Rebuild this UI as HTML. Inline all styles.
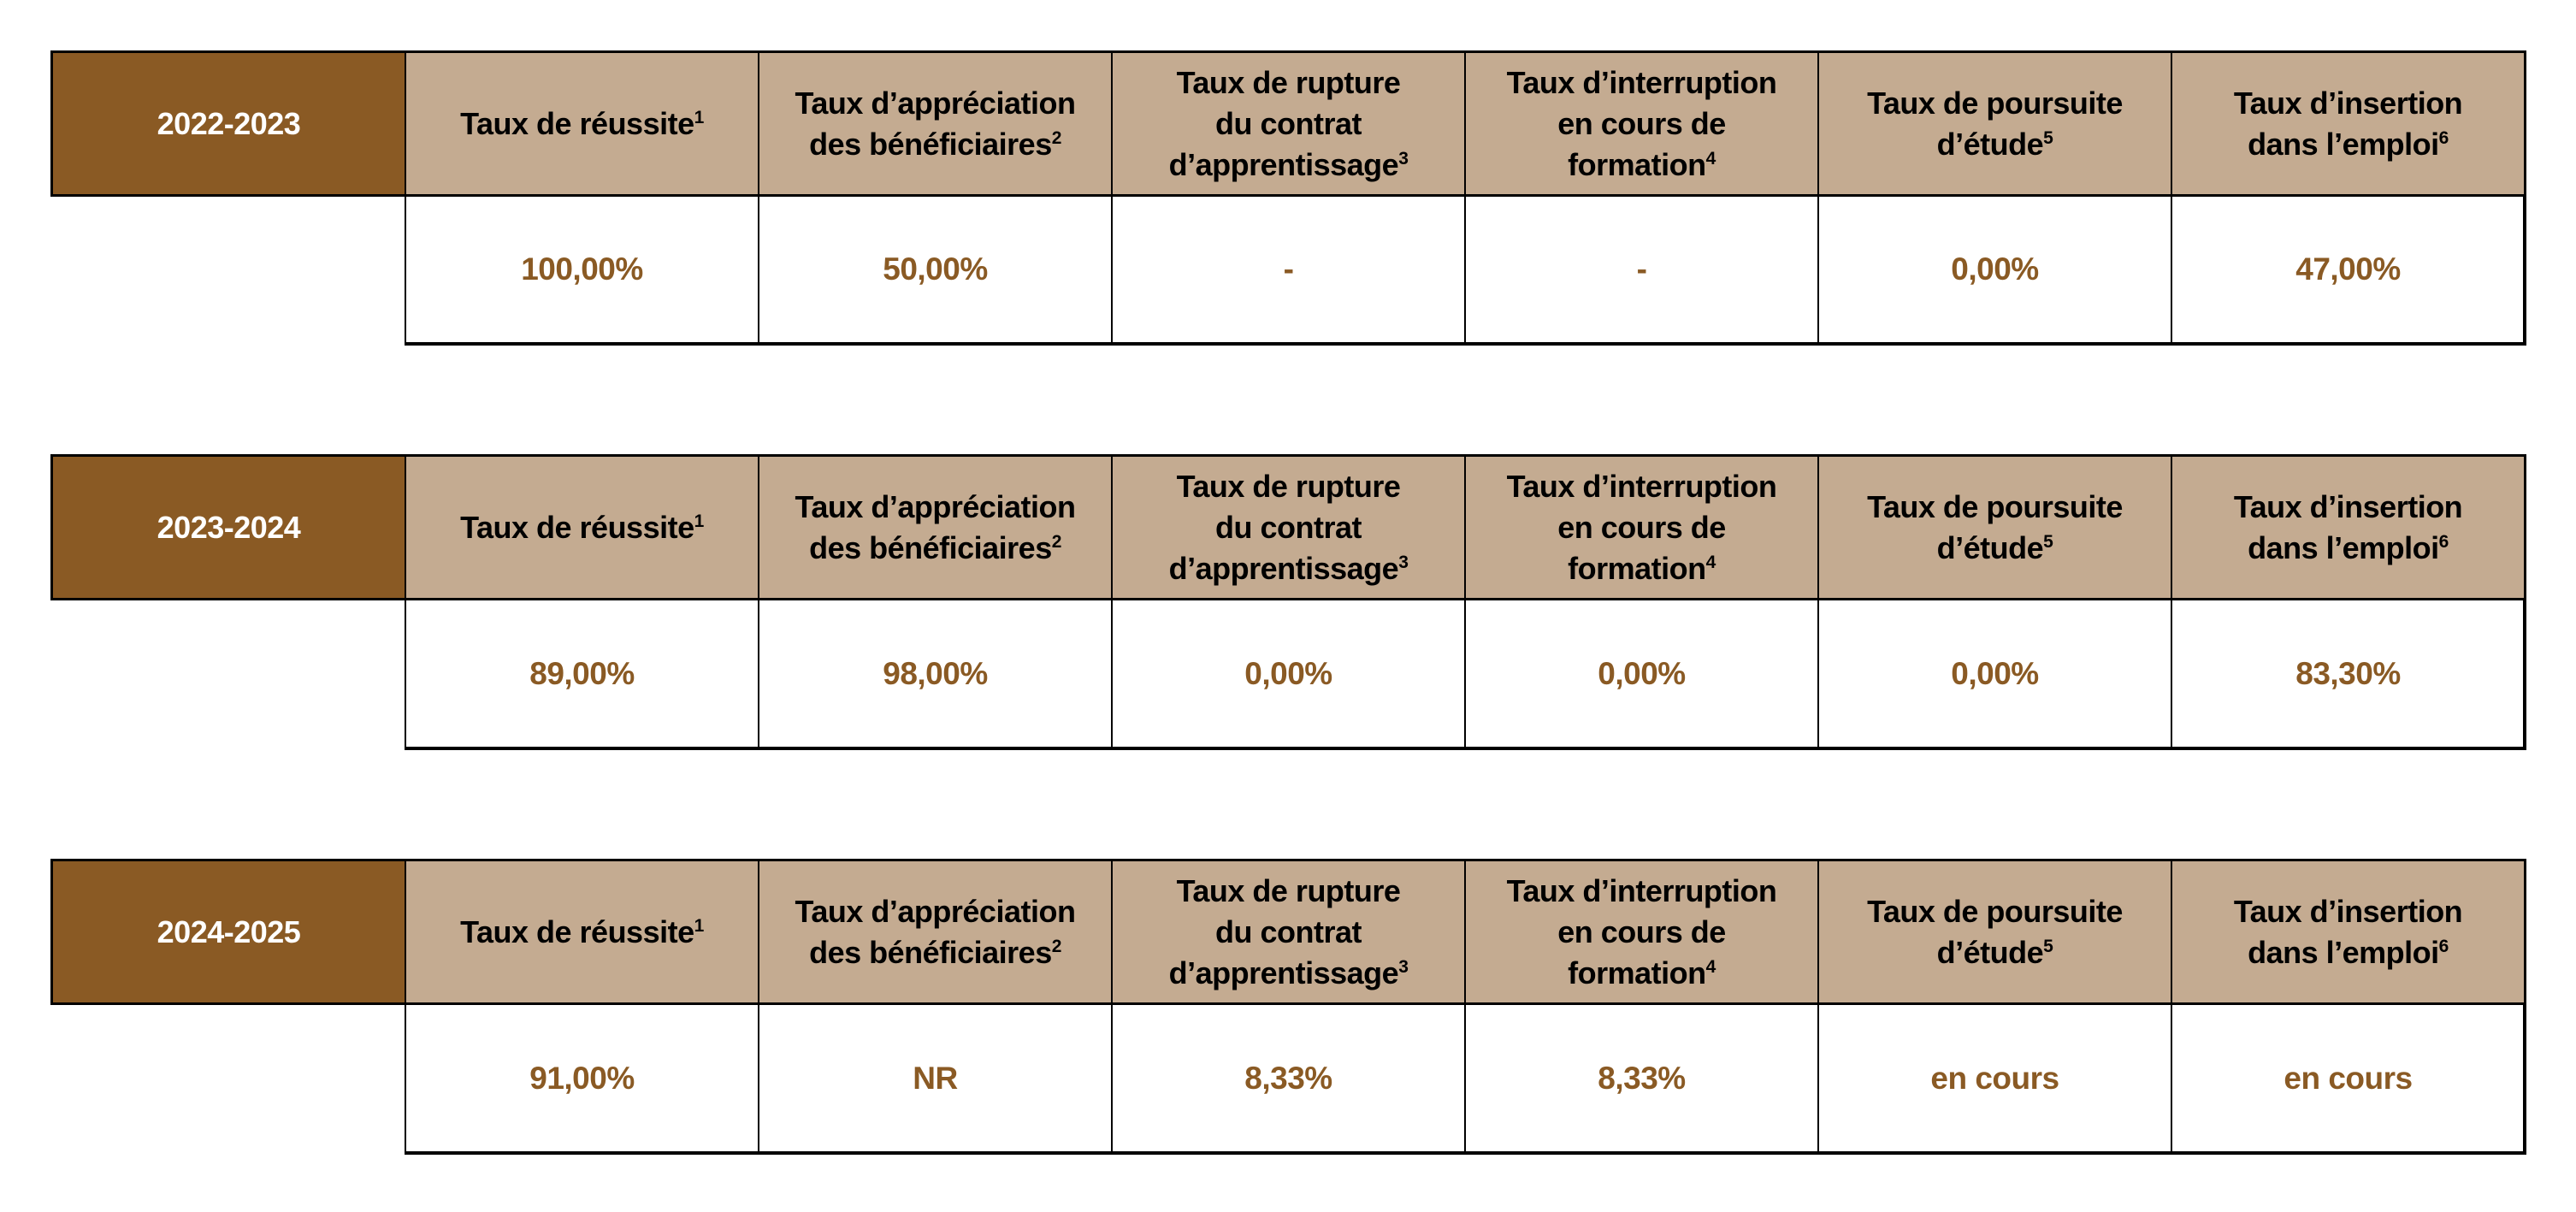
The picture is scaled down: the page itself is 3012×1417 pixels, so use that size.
<!DOCTYPE html>
<html><head><meta charset="utf-8"><style>
body{margin:0;width:3012px;height:1417px;background:#fff;position:relative;overflow:hidden;font-family:"Liberation Sans",sans-serif;font-weight:bold}
.c{position:absolute;box-sizing:border-box;display:flex;align-items:center;justify-content:center;text-align:center;border:2px solid #000;font-size:36px;line-height:48px;letter-spacing:-0.5px}
.h{background:#C4AB91;color:#000}
.y{background:#8A5A24;color:#fff;font-size:36px}
.d{background:#fff;color:#8A5A24;font-size:37px}
sup{font-size:21px;line-height:0;vertical-align:13px}
.t{position:absolute;box-sizing:border-box;border:3px solid #000;pointer-events:none}
</style></head><body>
<div id="root"></div>
<script>
const xs=[60,473,886,1299,1712,2125,2538,2951];
const heads=['Taux de réussite<sup>1</sup>','Taux d’appréciation<br>des bénéficiaires<sup>2</sup>','Taux de rupture<br>du contrat<br>d’apprentissage<sup>3</sup>','Taux d’interruption<br>en cours de<br>formation<sup>4</sup>','Taux de poursuite<br>d’étude<sup>5</sup>','Taux d’insertion<br>dans l’emploi<sup>6</sup>'];
const tables=[
 {y:[60,227,401],yr:'2022-2023',v:['100,00%','50,00%','-','-','0,00%','47,00%']},
 {y:[532,699,874],yr:'2023-2024',v:['89,00%','98,00%','0,00%','0,00%','0,00%','83,30%']},
 {y:[1005,1172,1347],yr:'2024-2025',v:['91,00%','NR','8,33%','8,33%','en cours','en cours']}];
let h='';
for(const t of tables){
 const [a,b,c]=t.y;
 h+=`<div class="c y" style="left:${xs[0]}px;top:${a}px;width:${xs[1]-xs[0]+2}px;height:${b-a+2}px"><span>${t.yr}</span></div>`;
 for(let i=0;i<6;i++){
  h+=`<div class="c h" style="left:${xs[i+1]}px;top:${a}px;width:${xs[i+2]-xs[i+1]+2}px;height:${b-a+2}px"><span>${heads[i]}</span></div>`;
  h+=`<div class="c d" style="left:${xs[i+1]}px;top:${b}px;width:${xs[i+2]-xs[i+1]+2}px;height:${c-b+2}px"><span>${t.v[i]}</span></div>`;
 }
 h+=`<div class="t" style="left:${xs[0]-1}px;top:${a-1}px;width:${xs[7]-xs[0]+4}px;height:${b-a+4}px"></div>`;
 h+=`<div style="position:absolute;left:${xs[1]}px;top:${c-1}px;width:${xs[7]-xs[1]+3}px;height:4px;background:#000"></div>`;
 h+=`<div style="position:absolute;left:${xs[7]-1}px;top:${b}px;width:4px;height:${c-b+2}px;background:#000"></div>`;
}
document.getElementById('root').innerHTML=h;
</script>
</body></html>
